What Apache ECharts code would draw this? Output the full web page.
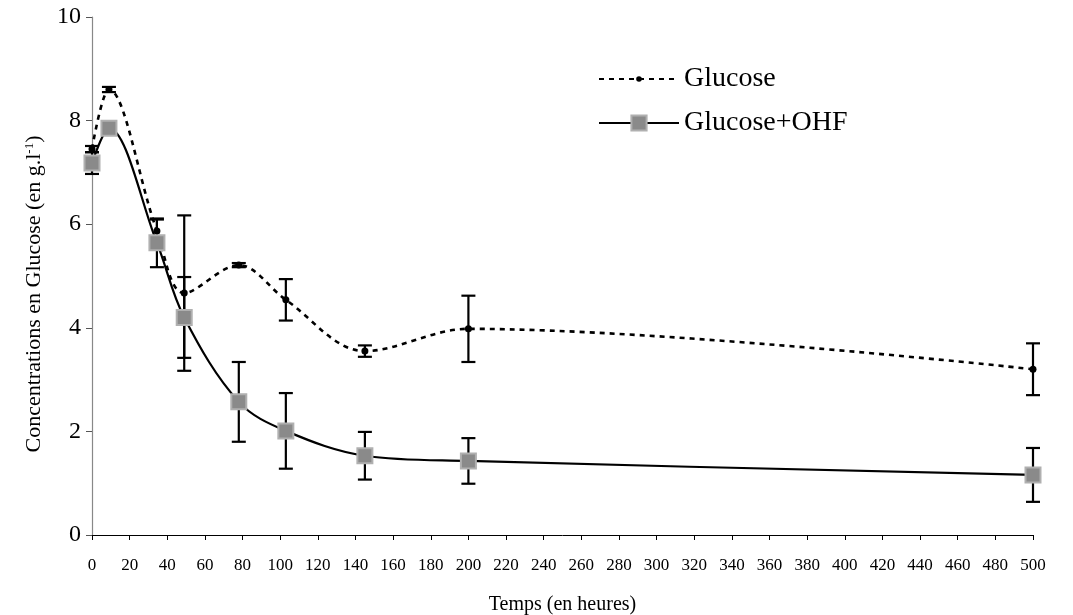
<!DOCTYPE html>
<html>
<head>
<meta charset="utf-8">
<script src="https://cdn.jsdelivr.net/npm/echarts@6/dist/echarts.min.js"></script>
<style>html,body{margin:0;padding:0;background:#fff}#c{width:1073px;height:615px}</style>
</head>
<body>
<div id="c"></div>
<script>
const times = [0, 9, 34.5, 49, 78, 103, 145, 200, 500];
const glucose = [7.45, 8.6, 5.87, 4.67, 5.21, 4.54, 3.55, 3.98, 3.2];
const glucoseErr = [0.06, 0.05, 0.22, 1.5, 0.04, 0.4, 0.11, 0.64, 0.5];
const ohf = [7.18, 7.85, 5.64, 4.2, 2.57, 2.01, 1.53, 1.43, 1.16];
const ohfErr = [0.21, 0.05, 0.47, 0.78, 0.77, 0.73, 0.46, 0.44, 0.52];
const seriesNames = ['Glucose', 'Glucose+OHF'];
const xTitle = 'Temps (en heures)';

const FONT = '"Liberation Serif", "DejaVu Serif", serif';

function pairs(ys) { return times.map((t, i) => [t, ys[i]]); }
function errData(ys, es) { return times.map((t, i) => [t, ys[i] - es[i], ys[i] + es[i]]); }

function errRender(params, api) {
  const x = api.value(0);
  const lo = api.coord([x, api.value(1)]);
  const hi = api.coord([x, api.value(2)]);
  const w = 7;
  const style = { stroke: '#000', lineWidth: 2.2 };
  return {
    type: 'group',
    children: [
      { type: 'line', shape: { x1: lo[0], y1: lo[1], x2: hi[0], y2: hi[1] }, style },
      { type: 'line', shape: { x1: lo[0] - w, y1: lo[1], x2: lo[0] + w, y2: lo[1] }, style },
      { type: 'line', shape: { x1: hi[0] - w, y1: hi[1], x2: hi[0] + w, y2: hi[1] }, style }
    ]
  };
}

const legendText = { fontFamily: FONT, fontSize: 28, color: '#000' };

const chart = echarts.init(document.getElementById('c'), null, { renderer: 'canvas' });
chart.setOption({
  animation: false,
  backgroundColor: '#fff',
  textStyle: { fontFamily: FONT, color: '#000' },
  grid: { left: 92, right: 40, top: 17, bottom: 80, containLabel: false, outerBoundsMode: 'none' },
  legend: [
    {
      left: 598, top: 65, padding: 0,
      itemWidth: 80, itemHeight: 7, itemGap: 0, itemTextGap: 8,
      textStyle: legendText,
      data: [seriesNames[0]]
    },
    {
      left: 598, top: 109, padding: 0,
      itemWidth: 80, itemHeight: 19, itemGap: 0, itemTextGap: 8,
      textStyle: legendText,
      data: [seriesNames[1]]
    }
  ],
  xAxis: {
    type: 'value',
    min: 0, max: 500, interval: 20,
    name: xTitle,
    nameLocation: 'middle',
    nameGap: 60,
    nameTextStyle: { fontFamily: FONT, fontSize: 20, color: '#000' },
    axisLine: { show: true, onZero: false, lineStyle: { color: '#000', width: 1 } },
    axisTick: { show: true, inside: false, length: 5, lineStyle: { color: '#000' } },
    axisLabel: { fontFamily: FONT, fontSize: 17, color: '#000', margin: 22 },
    splitLine: { show: false }
  },
  yAxis: {
    type: 'value',
    min: 0, max: 10, interval: 2,
    name: '{a|Concentrations en Glucose (en g.l}{s|-1}{a|)}',
    nameLocation: 'middle',
    nameGap: 46,
    nameTextStyle: {
      padding: [0, 36, 0, 0],
      rich: {
        a: { fontFamily: FONT, fontSize: 22, color: '#000' },
        s: { fontFamily: FONT, fontSize: 13, color: '#000', verticalAlign: 'top', padding: [0, 0, 10, 0] }
      }
    },
    axisLine: { show: true, lineStyle: { color: '#888', width: 1.2 } },
    axisTick: { show: true, inside: false, length: 6, lineStyle: { color: '#555' } },
    axisLabel: { fontFamily: FONT, fontSize: 24, color: '#000', margin: 11 },
    splitLine: { show: false }
  },
  series: [
    {
      name: 'Glucose err', type: 'custom', renderItem: errRender,
      data: errData(glucose, glucoseErr), encode: { x: 0, y: [1, 2] }, z: 2, silent: true
    },
    {
      name: 'Glucose+OHF err', type: 'custom', renderItem: errRender,
      data: errData(ohf, ohfErr), encode: { x: 0, y: [1, 2] }, z: 2, silent: true
    },
    {
      name: seriesNames[0], type: 'line', data: pairs(glucose), smooth: 0.35,
      symbol: 'circle', symbolSize: 7,
      itemStyle: { color: '#000' },
      lineStyle: { color: '#000', width: 2.6, type: [5, 5] },
      z: 3
    },
    {
      name: seriesNames[1], type: 'line', data: pairs(ohf), smooth: 0.35,
      symbol: 'rect', symbolSize: 15,
      itemStyle: { color: '#8a8a8a', borderColor: '#b0b0b0', borderWidth: 2 },
      lineStyle: { color: '#000', width: 2.2 },
      z: 4
    }
  ]
});
</script>
</body>
</html>
